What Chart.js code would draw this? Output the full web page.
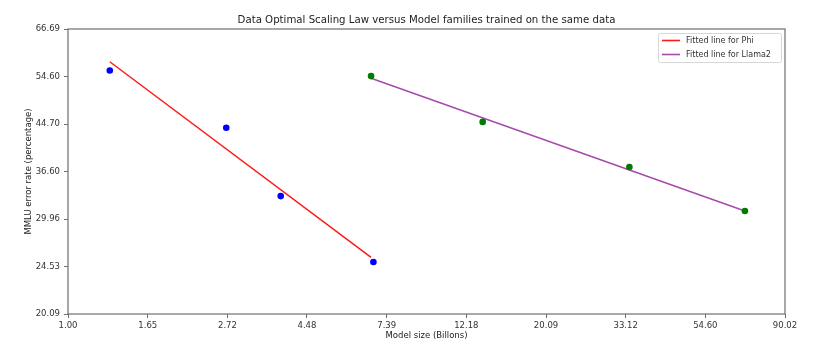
<!DOCTYPE html>
<html>
<head>
<meta charset="utf-8">
<script src="https://cdn.jsdelivr.net/npm/chart.js@4/dist/chart.umd.min.js"></script>
<style>
  html, body { margin: 0; padding: 0; background: #fff; }
  #wrap { width: 822px; height: 357px; }
</style>
</head>
<body>
<div id="wrap"><canvas id="c" width="822" height="357"></canvas></div>
<script>
const chartTitle = 'Data Optimal Scaling Law versus Model families trained on the same data';
const xTitle = 'Model size (Billons)';
const yTitle = 'MMLU error rate (percentage)';

const xTickLabels = ['1.00', '1.65', '2.72', '4.48', '7.39', '12.18', '20.09', '33.12', '54.60', '90.02'];
const yTickLabels = ['20.09', '24.53', '29.96', '36.60', '44.70', '54.60', '66.69'];

const phiSizes = [1.3, 2.7, 3.8, 6.8];
const phiError = [56.0, 44.0, 33.0, 25.0];
const phiFitSizes = [1.3, 6.7];
const phiFitError = [58.1, 25.5];

const llamaSizes = [6.7, 13.5, 33.9, 70.0];
const llamaError = [54.7, 45.1, 37.3, 31.0];
const llamaFitSizes = [6.7, 70.0];
const llamaFitError = [54.2, 31.0];

const FONT = 'DejaVu Sans';
const toPts = (xs, ys) => xs.map((x, i) => ({ x: x, y: ys[i] }));
const xTickVals = xTickLabels.map(Number);
const yTickVals = yTickLabels.map(Number);

const titlePlugin = {
  id: 'centeredTitle',
  afterDraw(chart) {
    const { ctx, chartArea } = chart;
    ctx.save();
    ctx.font = '10.2px "' + FONT + '"';
    ctx.fillStyle = '#222';
    ctx.textAlign = 'center';
    ctx.textBaseline = 'middle';
    ctx.fillText(chartTitle, (chartArea.left + chartArea.right) / 2, 20.8);
    ctx.restore();
  }
};

const framePlugin = {
  id: 'frame',
  afterDatasetsDraw(chart) {
    const { ctx, chartArea: a } = chart;
    ctx.save();
    ctx.strokeStyle = '#6e6e6e';
    ctx.lineWidth = 1.2;
    ctx.strokeRect(a.left, a.top, a.right - a.left, a.bottom - a.top);
    ctx.restore();
  }
};

const legendPlugin = {
  id: 'boxLegend',
  afterDraw(chart) {
    const { ctx, chartArea: a } = chart;
    const items = chart.data.datasets.filter(d => d.inLegend);
    ctx.save();
    ctx.font = '8px "' + FONT + '"';
    const bx = a.right - 127, by = a.top + 4, bw = 123, bh = 29;
    ctx.fillStyle = 'rgba(255,255,255,0.85)';
    ctx.strokeStyle = '#d6d6d6';
    ctx.lineWidth = 1;
    ctx.beginPath();
    ctx.roundRect(bx + 0.5, by + 0.5, bw, bh, 2);
    ctx.fill();
    ctx.stroke();
    items.forEach((d, i) => {
      const y = by + 7.5 + i * 14;
      ctx.strokeStyle = d.borderColor;
      ctx.lineWidth = 1.6;
      ctx.beginPath();
      ctx.moveTo(bx + 4, y);
      ctx.lineTo(bx + 22, y);
      ctx.stroke();
      ctx.fillStyle = '#333';
      ctx.textAlign = 'left';
      ctx.textBaseline = 'middle';
      ctx.fillText(d.label, bx + 28, y);
    });
    ctx.restore();
  }
};

new Chart(document.getElementById('c'), {
  type: 'scatter',
  data: {
    datasets: [
      {
        label: 'Fitted line for Phi', inLegend: true,
        data: toPts(phiFitSizes, phiFitError),
        showLine: true, borderColor: '#ff1a1a', borderWidth: 1.5,
        pointRadius: 0, fill: false, order: 3
      },
      {
        label: 'Fitted line for Llama2', inLegend: true,
        data: toPts(llamaFitSizes, llamaFitError),
        showLine: true, borderColor: '#a64aae', borderWidth: 1.5,
        pointRadius: 0, fill: false, order: 3
      },
      {
        label: 'Phi',
        data: toPts(phiSizes, phiError),
        backgroundColor: '#0000ff', borderColor: '#0000ff',
        pointRadius: 3.3, borderWidth: 0, order: 1
      },
      {
        label: 'Llama2',
        data: toPts(llamaSizes, llamaError),
        backgroundColor: '#007a00', borderColor: '#007a00',
        pointRadius: 3.3, borderWidth: 0, order: 1
      }
    ]
  },
  options: {
    responsive: false,
    animation: false,
    layout: { padding: { left: 0, right: 37, top: 29, bottom: 0 } },
    plugins: {
      legend: { display: false },
      tooltip: { enabled: false },
      title: { display: false }
    },
    scales: {
      x: {
        type: 'logarithmic',
        min: xTickVals[0],
        max: xTickVals[xTickVals.length - 1],
        afterBuildTicks: (s) => { s.ticks = xTickVals.map(v => ({ value: v })); },
        afterFit: (s) => { s.height = 43; },
        ticks: {
          autoSkip: false, maxRotation: 0, padding: 3,
          color: '#333', font: { family: FONT, size: 8.5 },
          callback: (v, i) => xTickLabels[i]
        },
        grid: { display: true, drawOnChartArea: false, drawTicks: true, tickLength: 4, color: '#6e6e6e' },
        border: { display: false },
        title: { display: true, text: xTitle, color: '#222', font: { family: FONT, size: 8.5 }, padding: { top: 0, bottom: 16 } }
      },
      y: {
        type: 'logarithmic',
        min: yTickVals[0],
        max: yTickVals[yTickVals.length - 1],
        afterBuildTicks: (s) => { s.ticks = yTickVals.map(v => ({ value: v })); },
        afterFit: (s) => { s.width = 68; },
        ticks: {
          autoSkip: false, padding: 4,
          color: '#333', font: { family: FONT, size: 8.5 },
          callback: (v, i) => yTickLabels[i]
        },
        grid: { display: true, drawOnChartArea: false, drawTicks: true, tickLength: 4, color: '#6e6e6e' },
        border: { display: false },
        title: { display: true, text: yTitle, color: '#222', font: { family: FONT, size: 8.5 }, padding: { top: 23.5, bottom: 0 } }
      }
    }
  },
  plugins: [titlePlugin, framePlugin, legendPlugin]
});
</script>
</body>
</html>
